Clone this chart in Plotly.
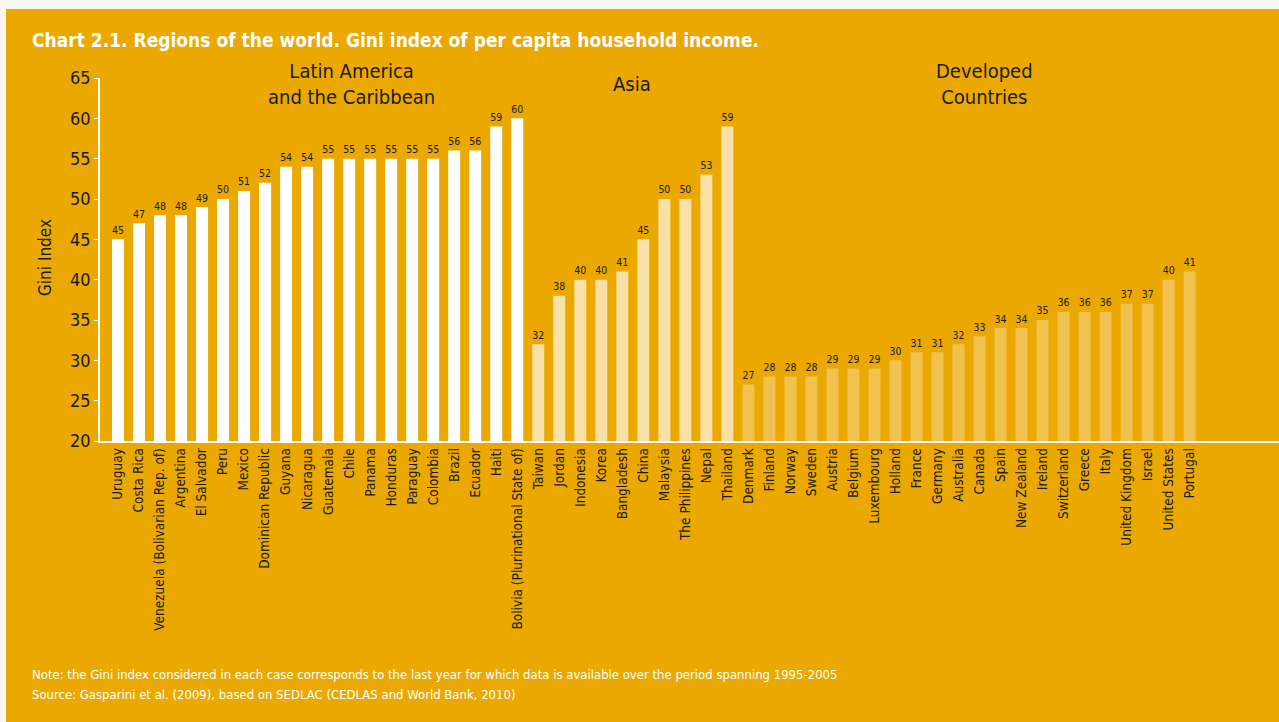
import plotly.graph_objects as go

# Gini index of per capita household income, by region
latam_countries = ["Uruguay", "Costa Rica", "Venezuela (Bolivarian Rep. of)", "Argentina", "El Salvador",
                   "Peru", "Mexico", "Dominican Republic", "Guyana", "Nicaragua", "Guatemala", "Chile",
                   "Panama", "Honduras", "Paraguay", "Colombia", "Brazil", "Ecuador", "Haiti",
                   "Bolivia (Plurinational State of)"]
latam_gini = [45, 47, 48, 48, 49, 50, 51, 52, 54, 54, 55, 55, 55, 55, 55, 55, 56, 56, 59, 60]

asia_countries = ["Taiwan", "Jordan", "Indonesia", "Korea", "Bangladesh", "China", "Malaysia",
                  "The Philippines", "Nepal", "Thailand"]
asia_gini = [32, 38, 40, 40, 41, 45, 50, 50, 53, 59]

dev_countries = ["Denmark", "Finland", "Norway", "Sweden", "Austria", "Belgium", "Luxembourg", "Holland",
                 "France", "Germany", "Australia", "Canada", "Spain", "New Zealand", "Ireland",
                 "Switzerland", "Greece", "Italy", "United Kingdom", "Israel", "United States", "Portugal"]
dev_gini = [27, 28, 28, 28, 29, 29, 29, 30, 31, 31, 32, 33, 34, 34, 35, 36, 36, 36, 37, 37, 40, 41]

y_ticks = [20, 25, 30, 35, 40, 45, 50, 55, 60, 65]

BG = "#EAA800"
LATAM_COLOR = "#FFFFFF"
ASIA_COLOR = "#F8E0A6"
DEV_COLOR = "#F1C24F"
TEXT = "#1A1A1A"
FONT = "DejaVu Sans Condensed, sans-serif"

countries = latam_countries + asia_countries + dev_countries
gini = latam_gini + asia_gini + dev_gini
colors = ([LATAM_COLOR] * len(latam_gini) + [ASIA_COLOR] * len(asia_gini)
          + [DEV_COLOR] * len(dev_gini))

fig = go.Figure()
fig.add_trace(go.Bar(
    x=countries, y=gini,
    marker=dict(color=colors, line=dict(width=0)),
    text=[str(v) for v in gini], textposition="outside",
    textfont=dict(family=FONT, size=12.5, color=TEXT),
    cliponaxis=False, width=0.57,
))

W, H = 1279, 722
L, R, T, B = 100, 0, 78, 281
plot_w, plot_h = W - L - R, H - T - B


def px_x(p):
    return (p - L) / plot_w


def px_y(p):
    return (H - B - p) / plot_h


n = len(countries)
fig.update_layout(
    width=W, height=H,
    margin=dict(l=L, r=R, t=T, b=B),
    paper_bgcolor=BG, plot_bgcolor="rgba(0,0,0,0)",
    showlegend=False, bargap=0.43,
    xaxis=dict(
        type="category", range=[-0.857, n + 3.25],
        showgrid=False, zeroline=False,
        showline=True, linecolor="white", linewidth=1.5,
        ticks="", tickangle=-90,
        tickfont=dict(family=FONT, size=13.5, color=TEXT),
    ),
    yaxis=dict(
        range=[20, 65], tickvals=y_ticks,
        showgrid=False, zeroline=False,
        showline=True, linecolor="white", linewidth=1.5,
        ticks="outside", ticklen=4, tickcolor="white", tickwidth=1,
        tickfont=dict(family=FONT, size=18, color=TEXT),
    ),
    yaxis2=dict(
        overlaying="y", anchor="x", side="left",
        range=[20, 65], tickvals=y_ticks, showticklabels=False,
        showgrid=False, zeroline=False, showline=False,
        ticks="inside", ticklen=4, tickcolor="white", tickwidth=1,
    ),
)

# Pale frame edges along the top and left of the page
fig.add_shape(type="rect", xref="paper", yref="paper", layer="below",
              x0=px_x(0), x1=px_x(W), y0=px_y(9), y1=px_y(0),
              fillcolor="#FCF7EE", line=dict(width=0))
fig.add_shape(type="rect", xref="paper", yref="paper", layer="below",
              x0=px_x(0), x1=px_x(6), y0=px_y(H), y1=px_y(0),
              fillcolor="#FCF7EE", line=dict(width=0))

# Title
fig.add_annotation(xref="paper", yref="paper", x=px_x(30), y=px_y(40),
                   xanchor="left", yanchor="middle", showarrow=False,
                   text="<b>Chart 2.1. Regions of the world. Gini index of per capita household income.</b>",
                   font=dict(family=FONT, size=19, color="white"))

# Region headers
header_font = dict(family=FONT, size=20, color=TEXT)
fig.add_annotation(xref="paper", yref="paper", x=px_x(351), y=px_y(84),
                   xanchor="center", yanchor="middle", showarrow=False,
                   text="Latin America<br>and the Caribbean", font=header_font)
fig.add_annotation(xref="paper", yref="paper", x=px_x(632), y=px_y(84),
                   xanchor="center", yanchor="middle", showarrow=False,
                   text="Asia", font=header_font)
fig.add_annotation(xref="paper", yref="paper", x=px_x(984), y=px_y(84),
                   xanchor="center", yanchor="middle", showarrow=False,
                   text="Developed<br>Countries", font=header_font)

# Y axis title
fig.add_annotation(xref="paper", yref="paper", x=px_x(45), y=px_y(258),
                   xanchor="center", yanchor="middle", showarrow=False, textangle=-90,
                   text="Gini Index", font=dict(family=FONT, size=17, color=TEXT))

# Footnotes
note_font = dict(family=FONT, size=13, color="white")
fig.add_annotation(xref="paper", yref="paper", x=px_x(30), y=px_y(674),
                   xanchor="left", yanchor="middle", showarrow=False,
                   text="Note: the Gini index considered in each case corresponds to the last year for which data is available over the period spanning 1995-2005",
                   font=note_font)
fig.add_annotation(xref="paper", yref="paper", x=px_x(30), y=px_y(694),
                   xanchor="left", yanchor="middle", showarrow=False,
                   text="Source: Gasparini et al. (2009), based on SEDLAC (CEDLAS and World Bank, 2010)",
                   font=note_font)

fig.write_html("out.html")
